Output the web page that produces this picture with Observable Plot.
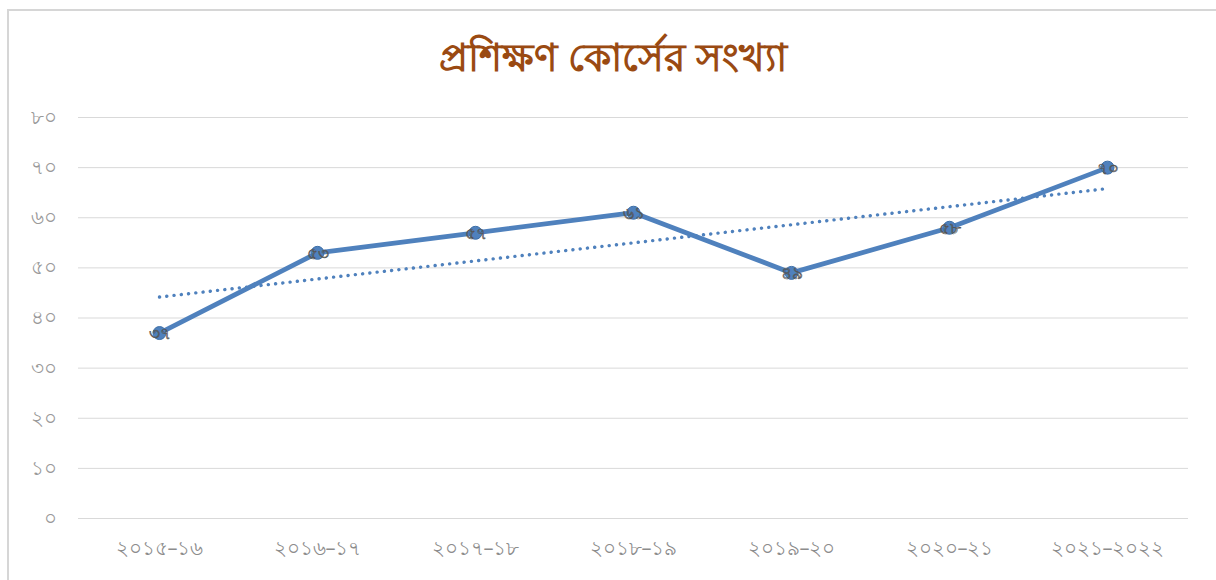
<!DOCTYPE html>
<html>
<head>
<meta charset="utf-8">
<script src="https://cdn.jsdelivr.net/npm/d3@7"></script>
<script src="https://cdn.jsdelivr.net/npm/@observablehq/plot@0.6"></script>
<style>
  html, body { margin: 0; padding: 0; background: #fff; }
  #wrap { position: relative; width: 1216px; height: 580px; overflow: hidden; }
  #frame { position: absolute; left: 7px; top: 9px; width: 1300px; height: 700px;
           border-top: 2px solid #d6d6d6; border-left: 2px solid #d6d6d6; }
  #title { position: absolute; left: 0; top: 27px; width: 1226px; text-align: center;
           font-family: "Noto Sans", "DejaVu Sans", sans-serif; font-size: 39px; font-weight: bold;
           color: #9a4a12; }
  #chart { position: absolute; left: 0; top: 0; }
</style>
</head>
<body>
<div id="wrap">
  <div id="frame"></div>
  <div id="title">প্রশিক্ষণ কোর্সের সংখ্যা</div>
  <div id="chart"></div>
</div>
<script>
const categories = ["২০১৫–১৬", "২০১৬–১৭", "২০১৭–১৮", "২০১৮–১৯", "২০১৯–২০", "২০২০–২১", "২০২১–২০২২"];
const courses = [37, 53, 57, 61, 49, 58, 70];
const yTicks = [0, 10, 20, 30, 40, 50, 60, 70, 80];
const yTickLabels = ["০", "১০", "২০", "৩০", "৪০", "৫০", "৬০", "৭০", "৮০"];

const bnDigits = "০১২৩৪৫৬৭৮৯";
const toBn = n => String(n).replace(/[0-9]/g, d => bnDigits[+d]);

const data = categories.map((c, i) => ({cat: c, i, v: courses[i]}));

// linear trend (least squares) computed from the data
const n = courses.length;
const mx = d3.mean(data, d => d.i), my = d3.mean(courses);
const slope = d3.sum(data, d => (d.i - mx) * (d.v - my)) / d3.sum(data, d => (d.i - mx) ** 2);
const icpt = my - slope * mx;
const trend = [data[0], data[n - 1]].map(d => ({cat: d.cat, v: icpt + slope * d.i}));

const blue = "#4f81bd";
const font = `"Noto Sans", "DejaVu Sans", sans-serif`;

const chart = Plot.plot({
  width: 1216,
  height: 580,
  marginLeft: 78,
  marginRight: 28,
  marginTop: 117,
  marginBottom: 62,
  style: {fontFamily: font, background: "transparent", overflow: "visible"},
  x: {type: "point", domain: categories, padding: 0.5, label: null},
  y: {domain: [0, 80], label: null},
  marks: [
    Plot.ruleY(yTicks, {stroke: "#d9d9d9", strokeWidth: 1}),
    Plot.axisY({ticks: yTicks, tickFormat: d => yTickLabels[yTicks.indexOf(d)], tickSize: 0,
      tickPadding: 22, fontSize: 20, fill: "#999", label: null}),
    Plot.axisX({tickSize: 0, tickPadding: 22, fontSize: 20, fill: "#8c8c8c", label: null}),
    Plot.line(trend, {x: "cat", y: "v", stroke: blue, strokeWidth: 3.4, strokeDasharray: "0.1 7.2",
      strokeLinecap: "round"}),
    Plot.line(data, {x: "cat", y: "v", stroke: blue, strokeWidth: 4.8, strokeLinejoin: "round"}),
    Plot.dot(data, {x: "cat", y: "v", r: 6.5, fill: blue, stroke: "#3d6fa8", strokeWidth: 1}),
    Plot.text(data, {x: "cat", y: "v", text: d => toBn(d.v), fontSize: 17, fill: "none",
      stroke: "#555", strokeWidth: 0.7, dy: 1})
  ]
});
document.getElementById("chart").appendChild(chart);
</script>
</body>
</html>
